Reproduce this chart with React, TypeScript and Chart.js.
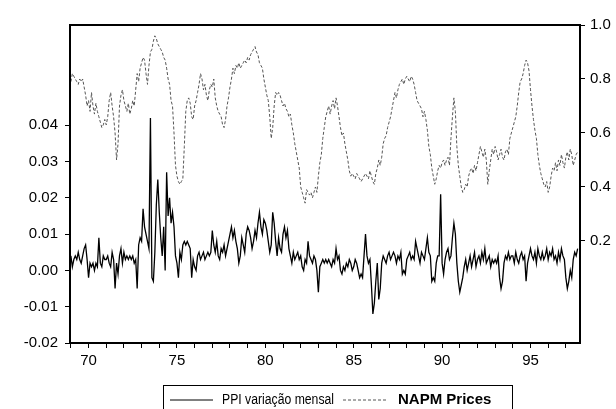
import React, { useEffect, useRef } from "react";
import { Chart, registerables } from "chart.js";

Chart.register(...registerables);

// Monthly data, January 1969 to September 1997
const START_YEAR = 69;

const ppiMonthly: number[] = [
  // 1969
  0.004, 0.001, 0.003, 0.004, 0.003, 0.005, 0.003, 0.002, 0.004, 0.006, 0.007, 0.003,
  // 1970
  -0.002, 0.002, 0.001, 0.002, 0.000, 0.002, 0.001, 0.009, 0.002, 0.001, 0.004, 0.003,
  // 1971
  0.003, 0.004, 0.002, 0.001, 0.005, 0.003, -0.005, 0.002, -0.001, 0.004, 0.006, 0.002,
  // 1972
  0.005, 0.003, 0.004, 0.003, 0.004, 0.003, 0.004, 0.002, 0.003, -0.005, 0.007, 0.009,
  // 1973
  0.008, 0.017, 0.012, 0.010, 0.008, 0.006, 0.042, -0.002, -0.003, 0.005, 0.018, 0.025,
  // 1974
  0.016, 0.009, 0.004, 0.012, 0.000, 0.027, 0.015, 0.020, 0.013, 0.016, 0.012, 0.004,
  // 1975
  0.002, -0.002, 0.005, 0.003, 0.007, 0.008, 0.007, 0.008, 0.007, 0.006, -0.002, 0.003,
  // 1976
  0.001, 0.000, 0.004, 0.005, 0.003, 0.004, 0.005, 0.003, 0.004, 0.005, 0.004, 0.005,
  // 1977
  0.011, 0.007, 0.005, 0.008, 0.004, 0.003, 0.006, 0.005, 0.007, 0.004, 0.006, 0.008,
  // 1978
  0.010, 0.012, 0.009, 0.011, 0.008, 0.006, 0.002, 0.004, 0.009, 0.007, 0.005, 0.010,
  // 1979
  0.012, 0.011, 0.009, 0.006, 0.008, 0.011, 0.009, 0.013, 0.016, 0.012, 0.010, 0.014,
  // 1980
  0.013, 0.011, 0.008, 0.005, 0.007, 0.016, 0.013, 0.008, 0.004, 0.009, 0.006, 0.005,
  // 1981
  0.010, 0.012, 0.009, 0.011, 0.006, 0.004, 0.002, 0.005, 0.003, 0.004, 0.005, 0.003,
  // 1982
  0.004, 0.001, 0.000, 0.003, 0.002, 0.008, 0.004, 0.003, 0.002, 0.004, 0.003, 0.000,
  // 1983
  -0.006, 0.001, 0.002, 0.003, 0.002, 0.003, 0.002, 0.003, 0.002, 0.001, 0.003, 0.002,
  // 1984
  0.006, 0.003, 0.004, 0.000, -0.001, 0.001, 0.000, 0.002, 0.001, 0.003, 0.002, 0.000,
  // 1985
  0.001, 0.003, 0.002, 0.000, -0.002, -0.001, -0.002, 0.004, 0.010, 0.004, 0.002, 0.003,
  // 1986
  -0.004, -0.012, -0.009, -0.003, 0.002, -0.008, -0.005, 0.002, 0.004, 0.003, 0.002, 0.004,
  // 1987
  0.005, 0.003, 0.004, 0.005, 0.004, 0.002, 0.004, 0.003, 0.005, -0.001, 0.000, -0.001,
  // 1988
  0.003, 0.004, 0.005, 0.003, 0.004, 0.003, 0.008, 0.006, 0.004, 0.002, 0.005, 0.004,
  // 1989
  0.003, 0.006, 0.009, 0.005, 0.004, -0.003, -0.002, -0.003, 0.002, 0.004, 0.004, 0.021,
  // 1990
  0.002, -0.001, 0.003, 0.005, 0.006, 0.003, 0.004, 0.009, 0.013, 0.010, 0.002, -0.003,
  // 1991
  -0.006, -0.004, -0.002, 0.001, 0.003, 0.000, 0.002, 0.004, 0.001, 0.003, 0.005, 0.001,
  // 1992
  0.003, 0.004, 0.002, 0.005, 0.003, 0.006, 0.002, 0.003, 0.004, 0.001, 0.003, 0.002,
  // 1993
  0.003, 0.002, 0.004, -0.002, -0.005, -0.003, 0.002, 0.004, 0.003, 0.005, 0.003, 0.004,
  // 1994
  0.004, 0.002, 0.005, 0.003, 0.002, 0.004, 0.005, 0.003, 0.004, -0.003, 0.002, 0.004,
  // 1995
  0.006, 0.004, 0.003, 0.005, 0.002, 0.006, 0.004, 0.003, 0.005, 0.003, 0.004, 0.006,
  // 1996
  0.003, 0.005, 0.004, 0.006, 0.003, 0.004, 0.002, 0.005, 0.003, 0.006, 0.004, 0.003,
  // 1997
  -0.002, -0.005, -0.003, 0.000, -0.002, 0.003, 0.005, 0.004, 0.006,
];

const napmPrices: number[] = [
  // 1969
  0.79, 0.82, 0.81, 0.80, 0.79, 0.78, 0.80, 0.79, 0.80, 0.77, 0.74, 0.70,
  // 1970
  0.72, 0.68, 0.75, 0.70, 0.67, 0.71, 0.68, 0.66, 0.64, 0.62, 0.63, 0.65,
  // 1971
  0.63, 0.66, 0.72, 0.75, 0.70, 0.66, 0.60, 0.50, 0.56, 0.70, 0.74, 0.76,
  // 1972
  0.72, 0.70, 0.68, 0.71, 0.67, 0.69, 0.72, 0.70, 0.76, 0.82, 0.79, 0.84,
  // 1973
  0.86, 0.88, 0.87, 0.82, 0.78, 0.85, 0.90, 0.91, 0.94, 0.96, 0.95, 0.93,
  // 1974
  0.92, 0.91, 0.90, 0.88, 0.87, 0.84, 0.80, 0.78, 0.72, 0.70, 0.60, 0.48,
  // 1975
  0.44, 0.42, 0.41, 0.42, 0.43, 0.55, 0.68, 0.72, 0.73, 0.71, 0.66, 0.65,
  // 1976
  0.70, 0.72, 0.75, 0.78, 0.82, 0.80, 0.76, 0.78, 0.74, 0.72, 0.76, 0.78,
  // 1977
  0.77, 0.80, 0.73, 0.70, 0.68, 0.67, 0.66, 0.63, 0.62, 0.65, 0.70, 0.73,
  // 1978
  0.77, 0.80, 0.84, 0.82, 0.85, 0.84, 0.86, 0.84, 0.85, 0.86, 0.87, 0.86,
  // 1979
  0.88, 0.87, 0.89, 0.90, 0.91, 0.92, 0.90, 0.89, 0.86, 0.85, 0.84, 0.80,
  // 1980
  0.77, 0.74, 0.72, 0.66, 0.58, 0.62, 0.70, 0.75, 0.74, 0.75, 0.74, 0.72,
  // 1981
  0.70, 0.71, 0.69, 0.68, 0.66, 0.67, 0.63, 0.60, 0.56, 0.53, 0.50, 0.47,
  // 1982
  0.40, 0.38, 0.36, 0.34, 0.39, 0.38, 0.37, 0.38, 0.36, 0.38, 0.40, 0.38,
  // 1983
  0.44, 0.49, 0.52, 0.58, 0.62, 0.66, 0.68, 0.70, 0.67, 0.70, 0.72, 0.69,
  // 1984
  0.73, 0.70, 0.66, 0.62, 0.59, 0.60, 0.56, 0.53, 0.50, 0.46, 0.44, 0.45,
  // 1985
  0.44, 0.43, 0.45, 0.44, 0.43, 0.42, 0.43, 0.44, 0.45, 0.44, 0.43, 0.46,
  // 1986
  0.44, 0.42, 0.41, 0.45, 0.47, 0.50, 0.48, 0.51, 0.56, 0.58, 0.59, 0.62,
  // 1987
  0.64, 0.66, 0.69, 0.72, 0.75, 0.73, 0.76, 0.78, 0.79, 0.80, 0.78, 0.80,
  // 1988
  0.81, 0.80, 0.79, 0.81, 0.80, 0.78, 0.75, 0.72, 0.71, 0.70, 0.69, 0.66,
  // 1989
  0.68, 0.65, 0.61, 0.55, 0.52, 0.47, 0.44, 0.41, 0.43, 0.46, 0.48, 0.47,
  // 1990
  0.49, 0.50, 0.48, 0.50, 0.51, 0.48, 0.58, 0.66, 0.73, 0.68, 0.55, 0.48,
  // 1991
  0.44, 0.40, 0.38, 0.39, 0.41, 0.40, 0.44, 0.46, 0.47, 0.45, 0.48, 0.46,
  // 1992
  0.49, 0.52, 0.55, 0.53, 0.51, 0.54, 0.50, 0.41, 0.46, 0.50, 0.54, 0.52,
  // 1993
  0.55, 0.53, 0.50, 0.52, 0.54, 0.51, 0.50, 0.53, 0.54, 0.52, 0.58, 0.60,
  // 1994
  0.62, 0.64, 0.66, 0.70, 0.75, 0.79, 0.80, 0.82, 0.85, 0.87, 0.86, 0.83,
  // 1995
  0.76, 0.70, 0.65, 0.61, 0.58, 0.52, 0.48, 0.45, 0.43, 0.41, 0.40, 0.42,
  // 1996
  0.38, 0.40, 0.44, 0.47, 0.46, 0.49, 0.46, 0.50, 0.48, 0.52, 0.49, 0.47,
  // 1997
  0.51, 0.53, 0.50, 0.54, 0.52, 0.48, 0.50, 0.52, 0.53,
];

const xTickYears: number[] = [69, 70, 71, 72, 73, 74, 75, 76, 77, 78, 79, 80, 81, 82, 83, 84, 85, 86, 87, 88, 89, 90, 91, 92, 93, 94, 95, 96, 97];
const xLabelYears: number[] = [70, 75, 80, 85, 90, 95];
const leftTicks: number[] = [-0.02, -0.01, 0.0, 0.01, 0.02, 0.03, 0.04];
const rightTicks: number[] = [0.2, 0.4, 0.6, 0.8, 1.0];

const seriesNames = ["PPI variação mensal", "NAPM Prices"];

const FONT = "'Liberation Sans', Arial, sans-serif";

export default function App() {
  const canvasRef = useRef<HTMLCanvasElement | null>(null);

  useEffect(() => {
    const canvas = canvasRef.current;
    if (!canvas) return;

    const framePlugin = {
      id: "frameAndLegend",
      afterDraw(chart: any) {
        const { ctx, chartArea } = chart;
        ctx.save();
        ctx.strokeStyle = "#000";
        ctx.lineWidth = 2;
        ctx.strokeRect(chartArea.left, chartArea.top, chartArea.right - chartArea.left, chartArea.bottom - chartArea.top);

        // legend box
        ctx.lineWidth = 1;
        ctx.strokeRect(163.5, 385.5, 349, 40);
        ctx.fillStyle = "#000";
        ctx.textBaseline = "middle";
        const ly = 400;
        ctx.beginPath();
        ctx.setLineDash([]);
        ctx.lineWidth = 1;
        ctx.moveTo(170, ly);
        ctx.lineTo(213, ly);
        ctx.stroke();
        ctx.font = `14px ${FONT}`;
        ctx.fillText(seriesNames[0], 222, ly, 112);
        ctx.beginPath();
        ctx.strokeStyle = "#555";
        ctx.setLineDash([3, 2]);
        ctx.moveTo(343, ly);
        ctx.lineTo(387, ly);
        ctx.stroke();
        ctx.setLineDash([]);
        ctx.font = `bold 15px ${FONT}`;
        ctx.fillText(seriesNames[1], 398, ly, 100);
        ctx.restore();
      },
    };

    const chart = new Chart(canvas, {
      type: "line",
      data: {
        datasets: [
          {
            label: seriesNames[1],
            data: napmPrices.map((v, i) => ({ x: START_YEAR + i / 12, y: v })),
            yAxisID: "y2",
            borderColor: "#555",
            borderWidth: 1,
            borderDash: [3, 2],
            pointRadius: 0,
            tension: 0,
          },
          {
            label: seriesNames[0],
            data: ppiMonthly.map((v, i) => ({ x: START_YEAR + i / 12, y: v })),
            yAxisID: "y",
            borderColor: "#000",
            borderWidth: 1.3,
            pointRadius: 0,
            tension: 0,
          },
        ],
      },
      options: {
        responsive: false,
        animation: false,
        layout: { padding: { top: 25, left: 0, right: 0, bottom: 0 } },
        plugins: { legend: { display: false }, tooltip: { enabled: false } },
        scales: {
          x: {
            type: "linear",
            min: 68.95,
            max: 97.8,
            afterBuildTicks: (scale: any) => {
              scale.ticks = xTickYears.map((v) => ({ value: v }));
            },
            afterFit: (scale: any) => {
              scale.height = 66;
            },
            ticks: {
              autoSkip: false,
              maxRotation: 0,
              padding: 4,
              color: "#000",
              font: { family: FONT, size: 15 },
              callback: (v: any) => (xLabelYears.includes(Number(v)) ? String(v) : ""),
            },
            grid: { drawOnChartArea: false, drawTicks: true, tickLength: 5, color: "#000", lineWidth: 1 },
            border: { display: true, color: "#000", width: 2 },
          },
          y: {
            type: "linear",
            position: "left",
            min: -0.02,
            max: 0.0676,
            afterBuildTicks: (scale: any) => {
              scale.ticks = leftTicks.map((v) => ({ value: v }));
            },
            afterFit: (scale: any) => {
              scale.width = 70;
            },
            ticks: {
              padding: 7,
              color: "#000",
              font: { family: FONT, size: 15 },
              callback: (v: any) => Number(v).toFixed(2),
            },
            grid: { drawOnChartArea: false, drawTicks: true, tickLength: 5, color: "#000" },
            border: { display: true, color: "#000", width: 2 },
          },
          y2: {
            type: "linear",
            position: "right",
            min: -0.178,
            max: 1.0,
            afterBuildTicks: (scale: any) => {
              scale.ticks = rightTicks.map((v) => ({ value: v }));
            },
            afterFit: (scale: any) => {
              scale.width = 36;
            },
            ticks: {
              padding: 5,
              color: "#000",
              font: { family: FONT, size: 15 },
              callback: (v: any) => Number(v).toFixed(1),
            },
            grid: { drawOnChartArea: false, drawTicks: true, tickLength: 5, color: "#000" },
            border: { display: true, color: "#000", width: 2 },
          },
        },
      },
      plugins: [framePlugin],
    });

    return () => chart.destroy();
  }, []);

  return (
    <div style={{ position: "absolute", left: 0, top: 0, width: 616, height: 409, background: "#fff" }}>
      <canvas ref={canvasRef} width={616} height={409} />
    </div>
  );
}
